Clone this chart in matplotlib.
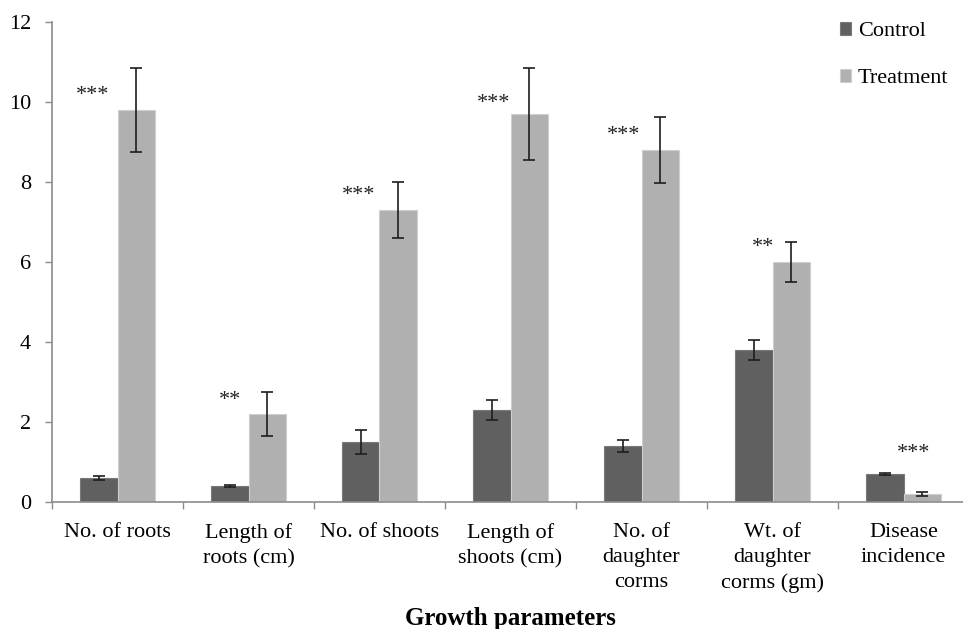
import numpy as np
import matplotlib.pyplot as plt

plt.rcParams['font.family'] = ['Liberation Serif', 'DejaVu Serif']

categories = ['No. of roots', 'Length of\nroots (cm)', 'No. of shoots', 'Length of\nshoots (cm)',
              'No. of\ndaughter\ncorms', 'Wt. of\ndaughter\ncorms (gm)', 'Disease\nincidence']
control = [0.6, 0.4, 1.5, 2.3, 1.4, 3.8, 0.7]
control_err = [0.05, 0.03, 0.29, 0.25, 0.15, 0.25, 0.02]
treatment = [9.8, 2.2, 7.3, 9.7, 8.8, 6.0, 0.2]
treatment_err = [1.04, 0.56, 0.70, 1.15, 0.83, 0.50, 0.04]
signif = ['***', '**', '***', '***', '***', '**', '***']

# where the significance marks sit (x offset from group centre, y in data units)
star_dx = [-0.19, -0.14, -0.16, -0.13, -0.14, -0.07, 0.08]
star_y = [10.15, 2.53, 7.65, 9.95, 9.15, 6.35, 1.2]

fig = plt.figure(figsize=(9.63, 6.29), dpi=100)
ax = fig.add_axes([52 / 963, 127 / 629, 917 / 963, 480 / 629])

x = np.arange(len(categories))
w = 0.286
err_kw = dict(ecolor='#1e1e1e', elinewidth=1.2, capsize=4, capthick=1.2)
b1 = ax.bar(x - w / 2, control, w, yerr=control_err, color='#606060', edgecolor='#7a7a7a',
            linewidth=0.8, error_kw=err_kw, label='Control')
b2 = ax.bar(x + w / 2, treatment, w, yerr=treatment_err, color='#b0b0b0', edgecolor='#cfcfcf',
            linewidth=0.8, error_kw=err_kw, label='Treatment')

for i, s in enumerate(signif):
    ax.text(x[i] + star_dx[i], star_y[i], s, ha='center', va='center', fontsize=16, color='#222222')

ax.set_xlim(-0.5, len(categories) - 0.5)
ax.set_ylim(0, 12)
ax.set_yticks(range(0, 13, 2))
ax.set_xticks(x)
ax.set_xticklabels(categories, linespacing=1.45)
ax.set_xticks(np.arange(len(categories) + 1) - 0.5, minor=True)

for side in ['top', 'right']:
    ax.spines[side].set_visible(False)
for side in ['left', 'bottom']:
    ax.spines[side].set_color('#8c8c8c')
    ax.spines[side].set_linewidth(1.2)

ax.tick_params(axis='y', labelsize=16, length=5, width=1, color='#8c8c8c', pad=10)
ax.tick_params(axis='x', which='major', labelsize=16, length=0, pad=15)
ax.tick_params(axis='x', which='minor', length=5, width=1, color='#8c8c8c')

ax.set_xlabel('Growth parameters', fontsize=18, fontweight='bold', labelpad=10)

ax.legend(handles=[b1, b2], loc='upper left', bbox_to_anchor=(840 / 963, 1 - 22 / 629),
          bbox_transform=fig.transFigure, frameon=False, fontsize=16, handlelength=0.5,
          handleheight=0.5, handletextpad=0.3, labelspacing=1.25, borderpad=0, borderaxespad=0)

fig.savefig('out.png', dpi=100)
